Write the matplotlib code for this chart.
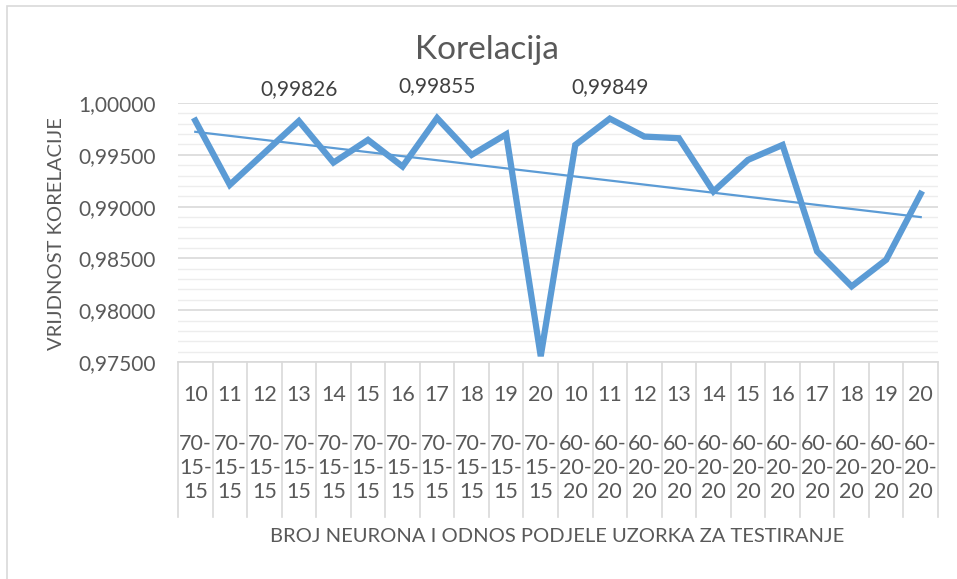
import numpy as np
import matplotlib
matplotlib.use("Agg")
import matplotlib.pyplot as plt
from matplotlib.patches import Rectangle

plt.rcParams['font.family'] = ['Lato', 'DejaVu Sans']

# data
neurons = [10, 11, 12, 13, 14, 15, 16, 17, 18, 19, 20,
           10, 11, 12, 13, 14, 15, 16, 17, 18, 19, 20]
splits = ["70-\n15-\n15"] * 11 + ["60-\n20-\n20"] * 11
correlation = [0.99830, 0.99210, 0.99518, 0.99826, 0.99425, 0.99644,
               0.99387, 0.99855, 0.99499, 0.99698, 0.97556, 0.99595,
               0.99849, 0.99676, 0.99660, 0.99146, 0.99451, 0.99595,
               0.98567, 0.98230, 0.98487, 0.99123]
labelled = [3, 7, 12]

W, H = 957, 579
fig = plt.figure(figsize=(W / 100, H / 100), dpi=100)
fig.patches.append(Rectangle((7 / W, -0.1), 1.2, 1 - 6 / H + 0.1, transform=fig.transFigure,
                             fill=False, edgecolor='#D9D9D9', linewidth=1.2))

ax_top, ax_bot, ax_l, ax_r = 103, 362, 178, 938
ax = fig.add_axes([ax_l / W, 1 - ax_bot / H, (ax_r - ax_l) / W, (ax_bot - ax_top) / H])

x = np.arange(len(correlation))
ax.set_xlim(-0.5, len(correlation) - 0.5)
ax.set_ylim(0.975, 1.0)

# gridlines
for v in np.arange(0.975, 1.0001, 0.001):
    major = abs(round(v / 0.005) * 0.005 - v) < 1e-9
    ax.axhline(v, color='#D9D9D9' if major else '#EDEDED', linewidth=1.2 if major else 1.0, zorder=0)

ax.plot(x, correlation, color='#5B9BD5', linewidth=4.5, solid_joinstyle='miter', zorder=3)

# linear trendline
k, b = np.polyfit(x, correlation, 1)
ax.plot(x, k * x + b, color='#5B9BD5', linewidth=1.6, zorder=2)

for i in labelled:
    ax.annotate(f"{correlation[i]:.5f}".replace('.', ','), (x[i], correlation[i]),
                xytext=(0, 23), textcoords='offset points', ha='center', va='center',
                fontsize=15, color='#404040', annotation_clip=False)

for s in ax.spines.values():
    s.set_visible(False)
ax.set_xticks([])
ticks = np.arange(0.975, 1.0001, 0.005)
ax.set_yticks(ticks)
ax.set_yticklabels([f"{t:.5f}".replace('.', ',') for t in ticks], fontsize=15, color='#595959')
ax.tick_params(axis='y', length=0, pad=16)

# multi-level category axis
ah = ax_bot - ax_top
tr = ax.get_xaxis_transform()
ax.plot([-0.5, len(x) - 0.5], [0, 0], color='#D9D9D9', linewidth=1.2, transform=tr, clip_on=False)
for i in range(len(x) + 1):
    ax.plot([i - 0.5, i - 0.5], [0, (ax_bot - 517) / ah], color='#D9D9D9', linewidth=1.2,
            transform=tr, clip_on=False)
for i in x:
    ax.text(i, (ax_bot - 395) / ah, str(neurons[i]), transform=tr, ha='center', va='center',
            fontsize=15.5, color='#595959')
    ax.text(i, (ax_bot - 468) / ah, splits[i], transform=tr, ha='center', va='center',
            fontsize=15.5, color='#595959', linespacing=1.28)

fig.text(557 / W, 1 - 536 / H, "BROJ NEURONA I ODNOS PODJELE UZORKA ZA TESTIRANJE",
         ha='center', va='center', fontsize=14.5, color='#595959')
fig.text(57 / W, 1 - 234 / H, "VRIJDNOST KORELACIJE", rotation=90,
         ha='center', va='center', fontsize=14.5, color='#595959')
fig.text(487 / W, 1 - 50 / H, "Korelacija", ha='center', va='center', fontsize=24, color='#595959')

fig.savefig("out.png", dpi=100)
